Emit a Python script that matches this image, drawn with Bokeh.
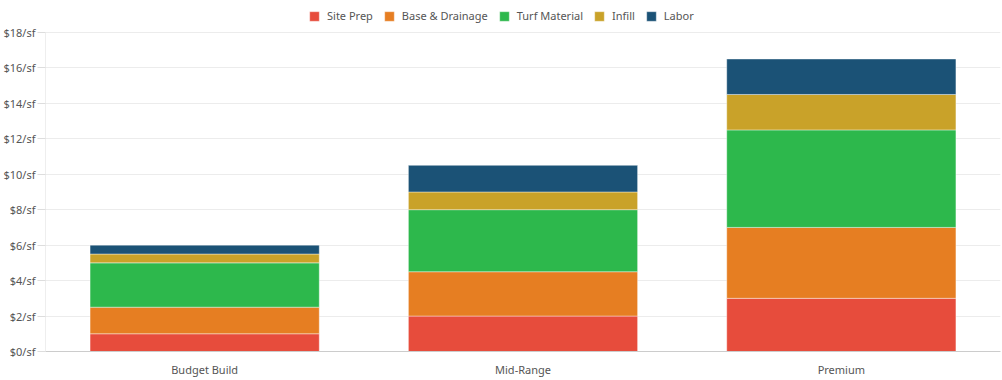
from bokeh.plotting import figure
from bokeh.models import (ColumnDataSource, FixedTicker, PrintfTickFormatter,
                          Legend, LegendItem, FactorRange)
from bokeh.transform import dodge
from bokeh.embed import file_html
from bokeh.resources import INLINE

tiers = ["Budget Build", "Mid-Range", "Premium"]
components = ["Site Prep", "Base & Drainage", "Turf Material", "Infill", "Labor"]
site_prep = [1.0, 2.0, 3.0]
base_drainage = [1.5, 2.5, 4.0]
turf_material = [2.5, 3.5, 5.5]
infill = [0.5, 1.0, 2.0]
labor = [0.5, 1.5, 2.0]
colors = ["#e74c3c", "#e67e22", "#2db84c", "#c9a229", "#1b5276"]
y_ticks = [0, 2, 4, 6, 8, 10, 12, 14, 16, 18]
y_max = 18

FONT = "Noto Sans"
TXT = "#555555"

source = ColumnDataSource(dict(
    tier=tiers,
    **{"Site Prep": site_prep, "Base & Drainage": base_drainage,
       "Turf Material": turf_material, "Infill": infill, "Labor": labor}))

p = figure(x_range=FactorRange(*tiers, range_padding=0), y_range=(0, 19.8),
           width=1002, height=380, output_backend="svg", toolbar_location=None,
           min_border_left=45, min_border_right=2, min_border_top=0,
           min_border_bottom=29)

renderers = p.vbar_stack(components, x="tier", width=0.72, source=source,
                         color=colors, line_color="white", line_alpha=0.4,
                         line_width=1)

# y-axis line only up to the top tick
axis_src = ColumnDataSource(dict(tier=[tiers[0]], y0=[0], y1=[y_max]))
p.segment(x0=dodge("tier", -0.5, range=p.x_range), y0="y0",
          x1=dodge("tier", -0.5, range=p.x_range), y1="y1",
          source=axis_src, line_color="#dddddd", line_width=1)

p.outline_line_color = None
p.background_fill_color = "white"

p.xgrid.grid_line_color = None
p.ygrid.grid_line_color = "#ececec"
p.ygrid.ticker = FixedTicker(ticks=y_ticks)

p.yaxis.ticker = FixedTicker(ticks=y_ticks)
p.yaxis.formatter = PrintfTickFormatter(format="$%d/sf")
p.yaxis.axis_line_color = None
p.yaxis.major_tick_line_color = "#dddddd"
p.yaxis.major_tick_out = 8
p.yaxis.major_tick_in = 0
p.yaxis.minor_tick_line_color = None
p.yaxis.major_label_standoff = 2

p.xaxis.axis_line_color = "#cccccc"
p.xaxis.major_tick_line_color = None
p.xaxis.minor_tick_line_color = None
p.xaxis.major_label_standoff = 4

for ax in (p.xaxis, p.yaxis):
    ax.major_label_text_font = FONT
    ax.major_label_text_font_size = "11px"
    ax.major_label_text_color = TXT

items = [LegendItem(label=c, renderers=[r]) for c, r in zip(components, renderers)]
legend = Legend(items=items, orientation="horizontal", location=(263, 328),
                label_text_font=FONT, label_text_font_size="11px",
                label_text_color=TXT, glyph_width=12, glyph_height=12,
                label_standoff=7, spacing=10, padding=2, margin=0,
                border_line_color=None, background_fill_alpha=0)
p.add_layout(legend, "center")

open("out.html", "w").write(file_html(p, INLINE))
